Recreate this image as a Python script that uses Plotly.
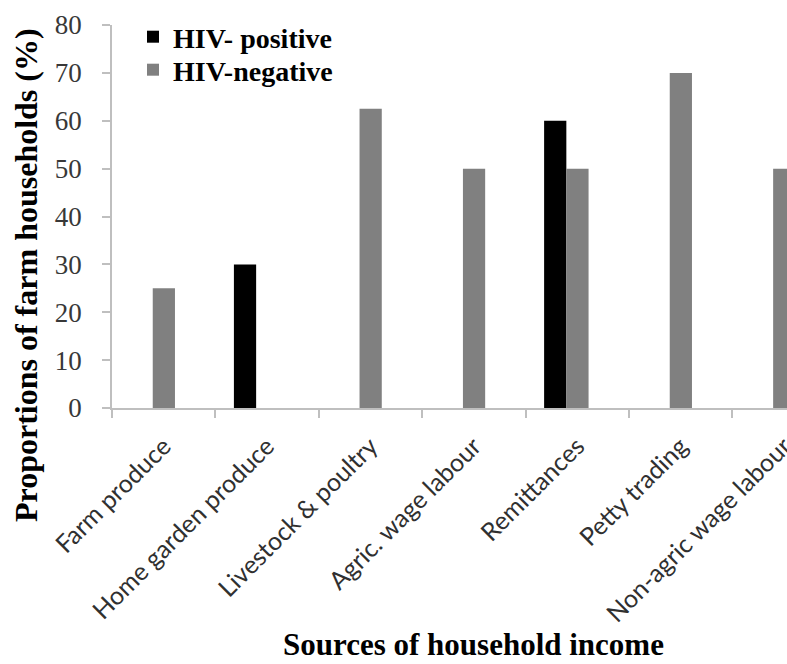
import plotly.graph_objects as go

categories = ["Farm produce", "Home garden produce", "Livestock & poultry",
              "Agric. wage labour", "Remittances", "Petty trading",
              "Non-agric wage labour"]
hiv_positive = [0, 30, 0, 0, 60, 0, 0]
hiv_negative = [25, 0, 62.5, 50, 50, 70, 50]
y_ticks = [0, 10, 20, 30, 40, 50, 60, 70, 80]

W, H = 787, 664
L, R, T, B = 112, 0, 25, 256
pw, ph = W - L - R, H - T - B

def px_x(p):
    return (p - L) / pw

def px_y(p):
    return (H - B - p) / ph

bar_w = 0.215
shift = -0.106

fig = go.Figure()
fig.add_trace(go.Bar(
    x=categories, y=hiv_positive, name="HIV- positive",
    marker=dict(color="#000000", line=dict(width=0)),
    width=bar_w, offset=shift - bar_w, legend="legend",
))
fig.add_trace(go.Bar(
    x=categories, y=hiv_negative, name="HIV-negative",
    marker=dict(color="#808080", line=dict(width=0)),
    width=bar_w, offset=shift, legend="legend2",
))

legend_font = dict(family="Liberation Serif", size=28, color="#000000")
fig.update_layout(
    width=W, height=H,
    margin=dict(l=L, r=R, t=T, b=B, pad=0),
    paper_bgcolor="white", plot_bgcolor="white",
    barmode="overlay",
    showlegend=True,
    legend=dict(x=px_x(133), y=px_y(37), xanchor="left", yanchor="middle",
                font=legend_font, bgcolor="rgba(0,0,0,0)",
                itemclick=False, itemdoubleclick=False),
    legend2=dict(x=px_x(133), y=px_y(70), xanchor="left", yanchor="middle",
                 font=legend_font, bgcolor="rgba(0,0,0,0)",
                 itemclick=False, itemdoubleclick=False),
    xaxis=dict(
        type="category", range=[-0.5, -0.5 + pw / 103.4],
        showline=True, linecolor="#bfbfbf", linewidth=1.5,
        ticks="outside", tickson="boundaries", ticklen=8, tickcolor="#bfbfbf",
        tickwidth=1.5, tickangle=-45, ticklabelstandoff=12,
        tickfont=dict(family="Lato", size=25, color="#303030"),
        showgrid=False, zeroline=False, automargin=False,
    ),
    yaxis=dict(
        range=[0, 80], tickvals=y_ticks, ticktext=[str(v) for v in y_ticks],
        showline=True, linecolor="#bfbfbf", linewidth=1.5,
        ticks="outside", ticklen=8, tickcolor="#bfbfbf", tickwidth=1.5,
        ticklabelstandoff=15,
        tickfont=dict(family="Liberation Serif", size=27, color="#383838"),
        showgrid=False, zeroline=False, automargin=False,
    ),
    annotations=[
        dict(text="<b>Proportions of farm households (%)</b>",
             xref="paper", yref="paper", x=px_x(26), y=px_y(275),
             xanchor="center", yanchor="middle", textangle=-90,
             showarrow=False,
             font=dict(family="Liberation Serif", size=32, color="#000000")),
        dict(text="<b>Sources of household income</b>",
             xref="paper", yref="paper", x=px_x(473), y=px_y(644),
             xanchor="center", yanchor="middle", showarrow=False,
             font=dict(family="Liberation Serif", size=31, color="#000000")),
    ],
)
fig.update_layout(legend_font_weight="bold", legend2_font_weight="bold")

fig.write_html("out.html")
